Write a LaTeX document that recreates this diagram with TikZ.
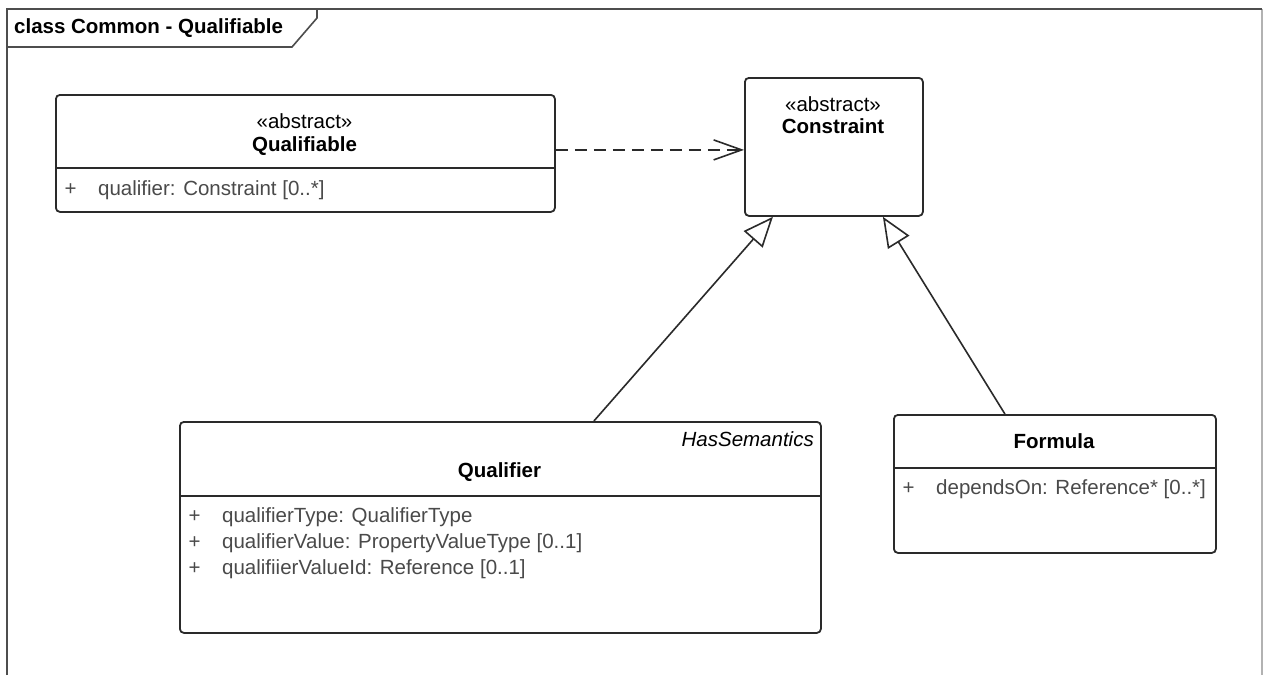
\documentclass[tikz,border=0pt]{standalone}
\usepackage{fontspec}
\setmainfont{Liberation Sans}
\usetikzlibrary{arrows.meta}
\definecolor{linec}{HTML}{2A2A2A}
\definecolor{attrc}{HTML}{4A4A4A}
\definecolor{framec}{HTML}{4D4D4D}
\begin{document}
\begin{tikzpicture}[x=1pt,y=-1pt,
  font=\fontsize{20.5}{24}\selectfont,
  cls/.style={draw=linec, line width=1.8pt, rounded corners=4pt, anchor=north west, inner sep=0pt, fill=white},
  txt/.style={inner sep=0pt, text height=15pt, text depth=4pt},
  attr/.style={txt, anchor=west, text=attrc},
  plus/.style={txt, text=attrc},
  title/.style={txt, font=\fontsize{20.5}{24}\selectfont\bfseries},
  sepline/.style={draw=linec, line width=1.8pt},
  gen/.style={draw=linec, line width=1.6pt, -{Triangle[open, length=30pt, width=25pt, fill=white]}},
  dep/.style={draw=linec, line width=1.6pt, dash pattern=on 12pt off 7pt, -{Straight Barb[length=28pt, width=20pt]}}
]
\useasboundingbox (0,0) rectangle (1264,675);
\fill[white] (0,0) rectangle (1264,675);

% frame
\draw[draw=black!30, line width=1.4pt] (1262,9) -- (1262,675);
\draw[draw=framec, line width=1.8pt] (7,675) -- (7,9) -- (1262,9);
\draw[draw=framec, line width=1.6pt] (7,47) -- (292,47) -- (317,18) -- (317,9);
\node[title, anchor=west] (frametitle) at (14,28) {class Common - Qualifiable};

% classes
\node[cls, minimum width=499pt, minimum height=117pt] (qualifiable) at (55,94) {};
\node[cls, minimum width=178pt, minimum height=138pt] (constraint) at (744,77) {};
\node[cls, minimum width=641pt, minimum height=211pt] (qualifier) at (179,421) {};
\node[cls, minimum width=322pt, minimum height=138pt] (formula) at (893,414) {};

% Qualifiable
\node[txt] (qa-st) at (304.5,123) {«abstract»};
\node[title] (qa-name) at (304.5,146) {Qualifiable};
\draw[sepline] (qualifiable.west |- 0,168) -- (qualifiable.east |- 0,168);
\node[plus] (qa-p1) at (70.5,190) {+};
\node[attr] (qa-a1) at (98,190) {qualifier: Constraint [0..*]};

% Constraint
\node[txt] (co-st) at (833,106) {«abstract»};
\node[title] (co-name) at (833,128) {Constraint};

% Qualifier
\node[txt, anchor=east, font=\fontsize{20.5}{24}\selectfont\itshape] (ql-st) at (814,441) {HasSemantics};
\node[title] (ql-name) at (499.5,472) {Qualifier};
\draw[sepline] (qualifier.west |- 0,496) -- (qualifier.east |- 0,496);
\node[plus] (ql-p1) at (194.5,517) {+};
\node[attr] (ql-a1) at (222,517) {qualifierType: QualifierType};
\node[plus] (ql-p2) at (194.5,543) {+};
\node[attr] (ql-a2) at (222,543) {qualifierValue: PropertyValueType [0..1]};
\node[plus] (ql-p3) at (194.5,569) {+};
\node[attr] (ql-a3) at (222,569) {qualifiierValueId: Reference [0..1]};

% Formula
\node[title] (fo-name) at (1054,443) {Formula};
\draw[sepline] (formula.west |- 0,468) -- (formula.east |- 0,468);
\node[plus] (fo-p1) at (908.5,489) {+};
\node[attr] (fo-a1) at (936,489) {dependsOn: Reference* [0..*]};

% connectors
\draw[dep] ([yshift=3.5pt]qualifiable.east) -- ([yshift=3.5pt]qualifiable.east -| constraint.west);
\draw[gen] ([xshift=93.5pt]qualifier.north) -- ([xshift=-61pt]constraint.south);
\draw[gen] ([xshift=-50pt]formula.north) -- ([xshift=49pt]constraint.south);
\end{tikzpicture}
\end{document}
